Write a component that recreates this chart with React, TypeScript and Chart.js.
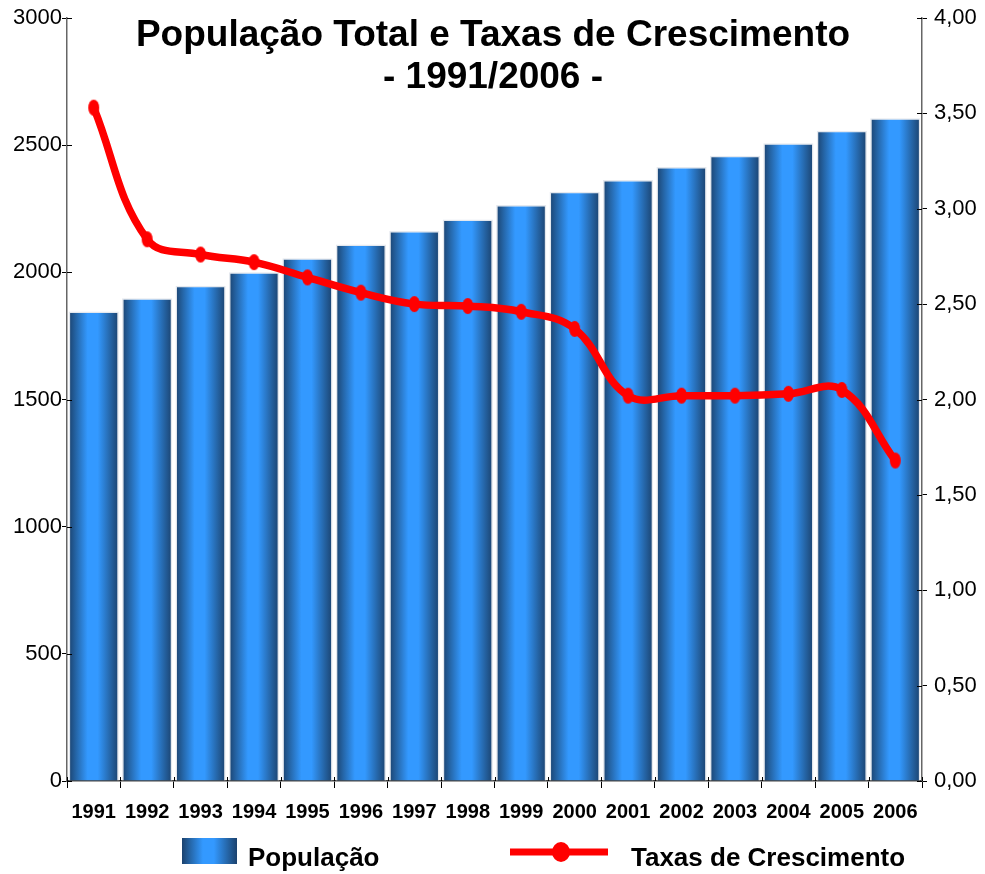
import React, { useEffect, useRef } from "react";
import { Chart, registerables } from "chart.js";

Chart.register(...registerables);

const years = ["1991","1992","1993","1994","1995","1996","1997","1998","1999","2000","2001","2002","2003","2004","2005","2006"];
const populacao = [1846,1898,1947,2000,2055,2109,2163,2208,2265,2317,2363,2414,2458,2508,2557,2606];
const taxas = [3.53,2.84,2.76,2.72,2.64,2.56,2.50,2.49,2.46,2.37,2.02,2.02,2.02,2.03,2.05,1.68];
const leftTicks = [0,500,1000,1500,2000,2500,3000];
const rightTicks = [0,0.5,1,1.5,2,2.5,3,3.5,4];
const titleLines = ["População Total e Taxas de Crescimento", "- 1991/2006 -"];
const legendLabels = ["População", "Taxas de Crescimento"];

const FONT = "'Liberation Sans', Arial, Helvetica, sans-serif";

function barGradient(c: CanvasRenderingContext2D, x0: number, x1: number) {
  const g = c.createLinearGradient(x0, 0, x1, 0);
  g.addColorStop(0, "#1b426e");
  g.addColorStop(0.15, "#2566a8");
  g.addColorStop(0.38, "#3399ff");
  g.addColorStop(0.58, "#3399ff");
  g.addColorStop(0.85, "#2461a0");
  g.addColorStop(1, "#1b426e");
  return g;
}

function makeEllipse(rx: number, ry: number) {
  const cv = document.createElement("canvas");
  cv.width = Math.ceil(rx * 2) + 2;
  cv.height = Math.ceil(ry * 2) + 2;
  const c = cv.getContext("2d")!;
  c.fillStyle = "#ff0000";
  c.beginPath();
  c.ellipse(cv.width / 2, cv.height / 2, rx, ry, 0, 0, Math.PI * 2);
  c.fill();
  return cv;
}

export default function App() {
  const ref = useRef<HTMLCanvasElement | null>(null);
  useEffect(() => {
    document.body.style.margin = "0";
    const canvas = ref.current!;
    const marker = makeEllipse(5.5, 8);

    const overlay = {
      id: "overlay",
      afterDraw(chart: any) {
        const c = chart.ctx as CanvasRenderingContext2D;
        const ca = chart.chartArea;
        c.save();
        c.strokeStyle = "#000";
        c.lineWidth = 1;
        const yl = chart.scales.y;
        leftTicks.forEach((v) => {
          const py = Math.round(yl.getPixelForValue(v)) + 0.5;
          c.beginPath(); c.moveTo(ca.left, py); c.lineTo(ca.left + 5, py); c.stroke();
        });
        const yr = chart.scales.y1;
        rightTicks.forEach((v) => {
          const py = Math.round(yr.getPixelForValue(v)) + 0.5;
          c.beginPath(); c.moveTo(ca.right - 5, py); c.lineTo(ca.right, py); c.stroke();
        });
        const step = (ca.right - ca.left) / years.length;
        for (let i = 0; i <= years.length; i++) {
          const px = Math.round(ca.left + i * step) + 0.5;
          c.beginPath(); c.moveTo(px, ca.bottom - 4); c.lineTo(px, ca.bottom); c.stroke();
        }
        // title
        c.fillStyle = "#000";
        c.textAlign = "center";
        c.textBaseline = "middle";
        c.font = `bold 37px ${FONT}`;
        c.fillText(titleLines[0], 493, 36);
        c.fillText(titleLines[1], 493, 78);
        // legend
        c.fillStyle = barGradient(c, 182, 237);
        c.fillRect(182, 838, 55, 26);
        c.textAlign = "left";
        c.font = `bold 26px ${FONT}`;
        c.fillStyle = "#000";
        c.fillText(legendLabels[0], 248, 859);
        c.strokeStyle = "#ff0000";
        c.lineWidth = 7;
        c.beginPath(); c.moveTo(510, 852); c.lineTo(608, 852); c.stroke();
        c.fillStyle = "#ff0000";
        c.beginPath(); c.ellipse(561, 852, 9, 10, 0, 0, Math.PI * 2); c.fill();
        c.fillStyle = "#000";
        c.fillText(legendLabels[1], 631, 859);
        c.restore();
      },
    };

    const chart = new Chart(canvas, {
      type: "bar",
      data: {
        labels: years,
        datasets: [
          {
            type: "line",
            label: legendLabels[1],
            data: taxas,
            yAxisID: "y1",
            borderColor: "#ff0000",
            backgroundColor: "#ff0000",
            borderWidth: 7.5,
            tension: 0.4,
            pointStyle: marker as any,
            pointRadius: 7,
            order: 0,
          } as any,
          {
            type: "bar",
            label: legendLabels[0],
            data: populacao,
            yAxisID: "y",
            backgroundColor: (ctx: any) => {
              const chart = ctx.chart;
              if (!chart.chartArea || ctx.dataIndex === undefined) return "#3399ff";
              const xs = chart.scales.x;
              const cx = xs.getPixelForValue(ctx.dataIndex);
              const w = ((chart.chartArea.right - chart.chartArea.left) / years.length) * 0.94;
              return barGradient(chart.ctx, cx - w / 2, cx + w / 2);
            },
            borderColor: "#e4e8ee",
            borderWidth: 1.5,
            borderSkipped: "bottom",
            barPercentage: 0.94,
            categoryPercentage: 1,
            order: 1,
          } as any,
        ],
      },
      options: {
        responsive: false,
        animation: false,
        layout: { padding: { top: 15.5, left: 0, right: 0, bottom: 0 } },
        plugins: { legend: { display: false }, title: { display: false }, tooltip: { enabled: false } },
        scales: {
          x: {
            grid: { display: true, drawOnChartArea: false, offset: true, tickLength: 7, color: "#000" },
            border: { color: "#444", width: 1.5 },
            ticks: { color: "#000", font: { family: FONT, size: 20, weight: "bold" }, padding: 12, maxRotation: 0, autoSkip: false },
            afterFit: (s: any) => { s.height = 93; },
          },
          y: {
            position: "left",
            min: 0,
            max: 3000,
            afterBuildTicks: (s: any) => { s.ticks = leftTicks.map((v) => ({ value: v })); },
            grid: { display: true, drawOnChartArea: false, tickLength: 5, color: "#000" },
            border: { color: "#666", width: 1.5 },
            ticks: {
              color: "#000",
              font: { family: FONT, size: 22, lineHeight: 1 },
              padding: 0,
              callback: (v: any) => String(v),
            },
            afterFit: (s: any) => { s.width = 67; },
          },
          y1: {
            position: "right",
            min: 0,
            max: 4,
            afterBuildTicks: (s: any) => { s.ticks = rightTicks.map((v) => ({ value: v })); },
            grid: { display: true, drawOnChartArea: false, tickLength: 5, color: "#000" },
            border: { color: "#666", width: 1.5 },
            ticks: {
              color: "#000",
              font: { family: FONT, size: 22, lineHeight: 1 },
              padding: 7,
              callback: (v: any) => Number(v).toFixed(2).replace(".", ","),
            },
            afterFit: (s: any) => { s.width = 63; },
          },
        },
      },
      plugins: [overlay],
    });
    return () => chart.destroy();
  }, []);
  return (
    <div style={{ position: "absolute", left: 0, top: 0, width: 985, height: 874 }}>
      <canvas ref={ref} width={985} height={874} />
    </div>
  );
}
